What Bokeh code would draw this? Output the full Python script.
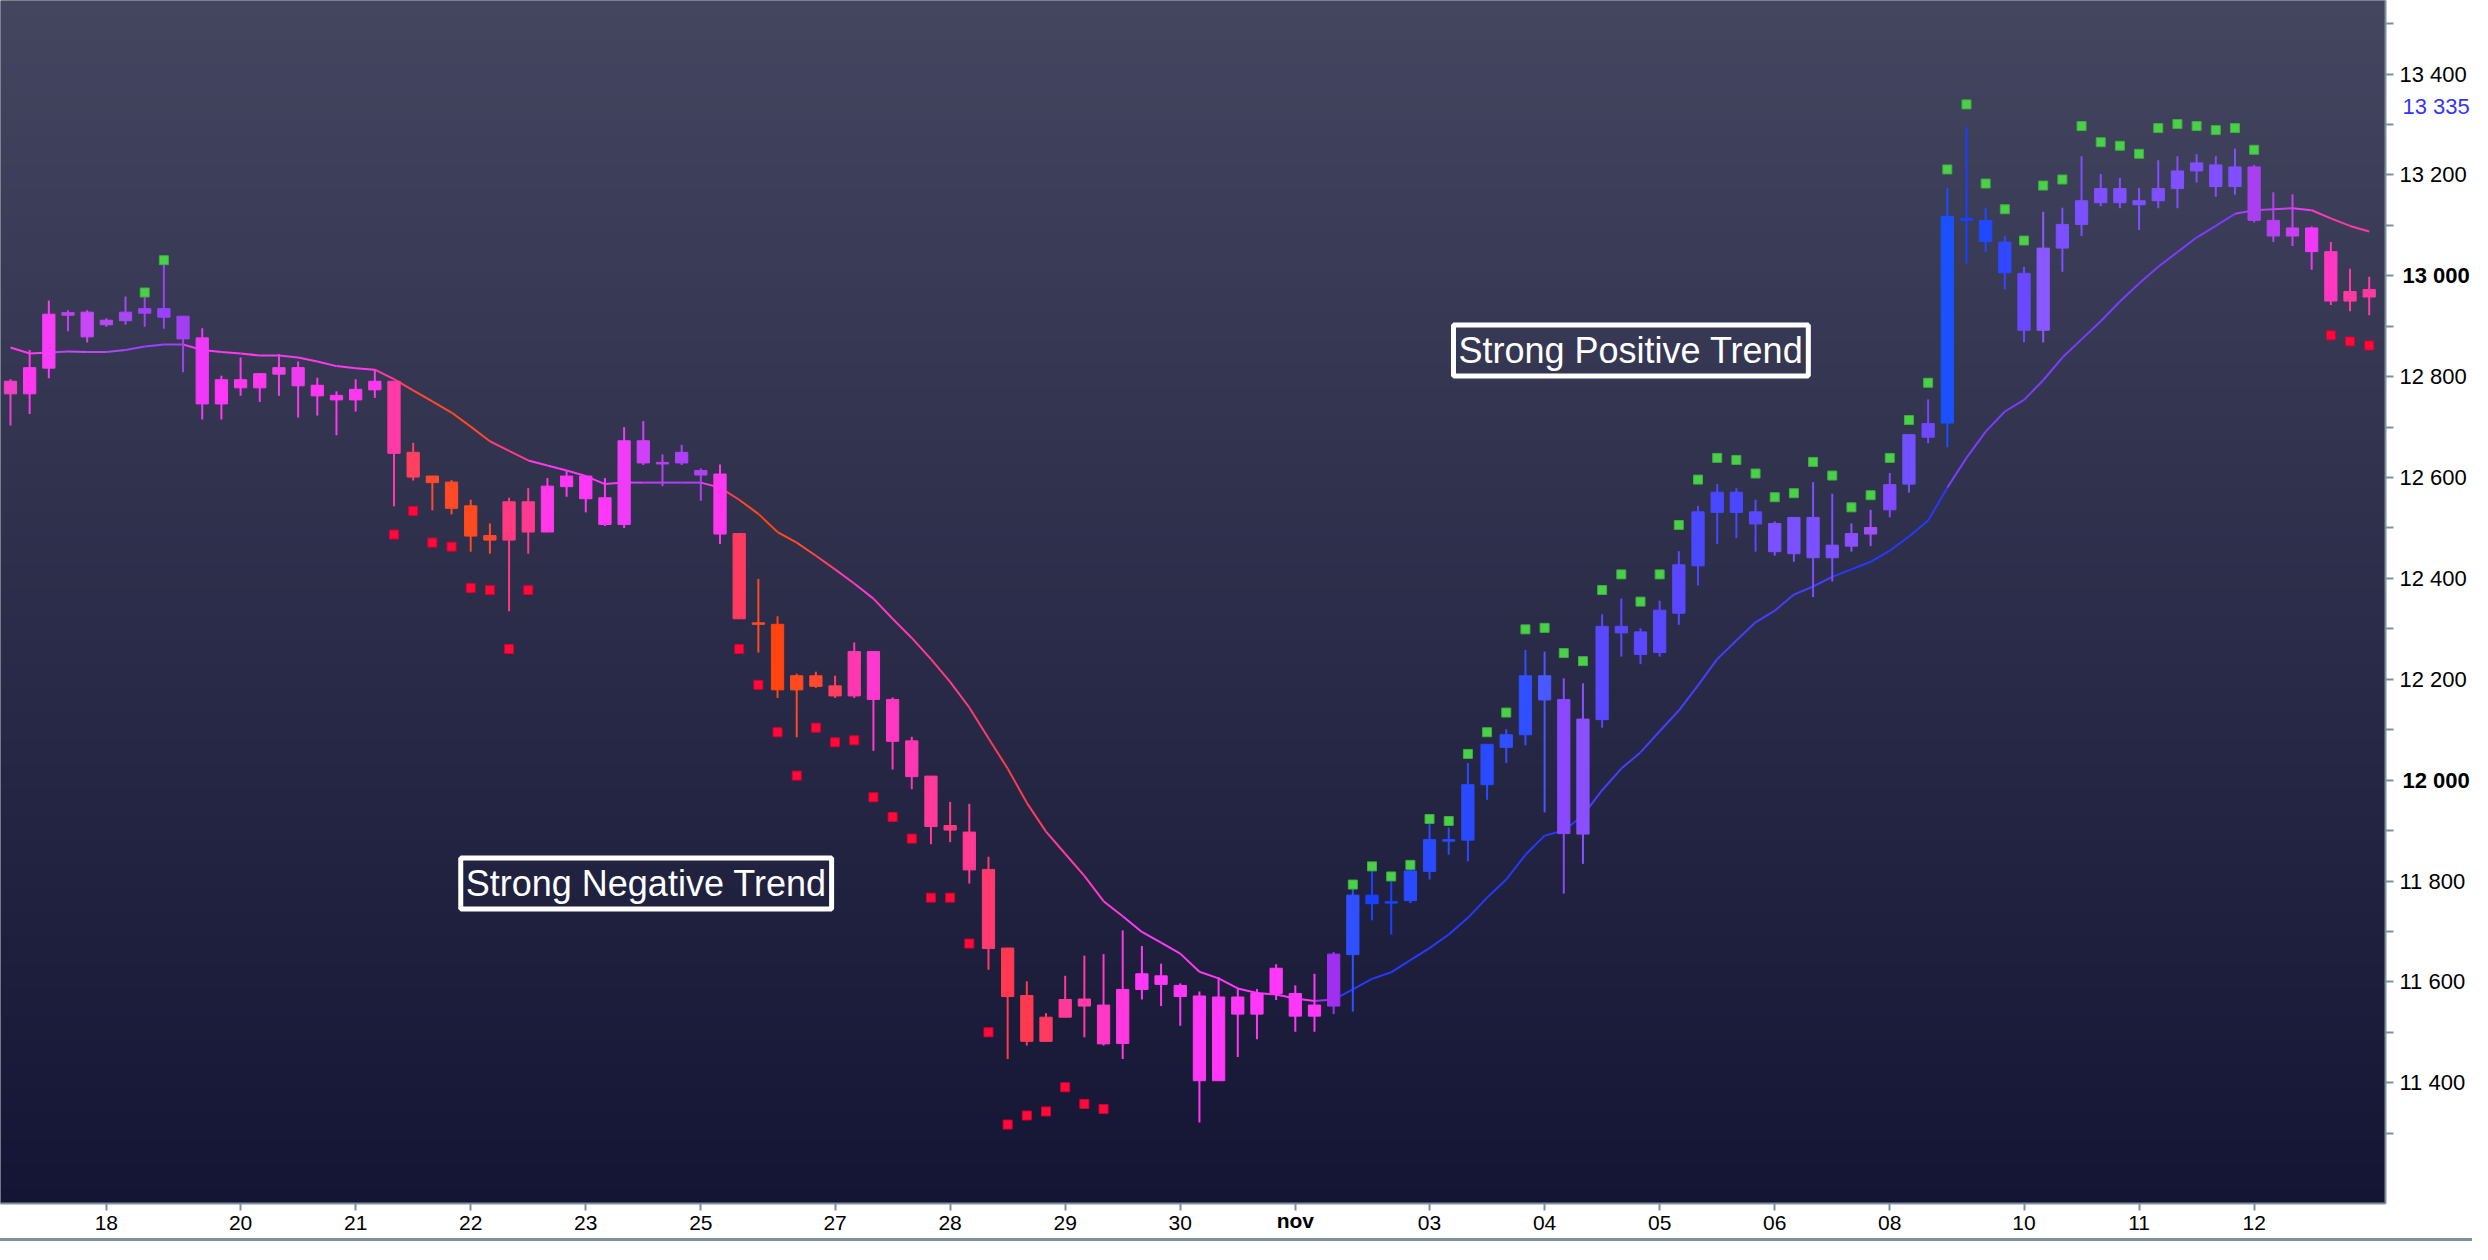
import numpy as np
from bokeh.plotting import figure
from bokeh.models import Range1d, FixedTicker, Label, LinearAxis
from bokeh.embed import file_html
from bokeh.resources import INLINE

# ---------------- data ----------------
# x-axis day labels and the candle index at which each day starts
tick_index = [5, 12, 18, 24, 30, 36, 43, 49, 55, 61, 67, 74, 80, 86, 92, 98, 105, 111, 117]
tick_labels = ["18", "20", "21", "22", "23", "25", "27", "28", "29", "30", "nov",
               "03", "04", "05", "06", "08", "10", "11", "12"]
bold_x_labels = ["nov"]

open_ = [12791, 12766, 12817, 12927, 12928, 12903, 12911, 12926, 12935, 12920,
         12877, 12746, 12794, 12778, 12805, 12818, 12783, 12763, 12754, 12774,
         12791, 12650, 12603, 12591, 12544, 12485, 12476, 12552, 12492, 12582,
         12603, 12560, 12507, 12673, 12630, 12629, 12614, 12607, 12489, 12312,
         12309, 12179, 12207, 12187, 12167, 12255, 12160, 12078, 12008, 11910,
         11897, 11823, 11667, 11573, 11482, 11530, 11566, 11554, 11478, 11585,
         11612, 11593, 11572, 11404, 11570, 11536, 11577, 11577, 11532, 11552,
         11654, 11772, 11756, 11761, 11819, 11882, 11881, 11991, 12065, 12090,
         12207, 12160, 11893, 12120, 12305, 12294, 12253, 12331, 12425, 12531,
         12571, 12532, 12509, 12449, 12521, 12441, 12464, 12488, 12536, 12587,
         12680, 12708, 13114, 13110, 13067, 13005, 12892, 13055, 13102, 13145,
         13173, 13141, 13149, 13173, 13208, 13220, 13177, 13216, 13110, 13079,
         13095, 13048, 12950, 12973]

close = [12766, 12818, 12924, 12922, 12879, 12912, 12928, 12935, 12918, 12875,
         12746, 12794, 12778, 12806, 12818, 12782, 12762, 12754, 12775, 12791,
         12648, 12601, 12590, 12539, 12484, 12476, 12552, 12492, 12583, 12603,
         12558, 12507, 12673, 12629, 12627, 12650, 12605, 12488, 12320, 12309,
         12179, 12207, 12186, 12167, 12255, 12160, 12077, 12007, 11908, 11901,
         11822, 11666, 11571, 11482, 11530, 11565, 11552, 11477, 11585, 11616,
         11595, 11571, 11404, 11570, 11536, 11577, 11627, 11532, 11554, 11655,
         11772, 11755, 11759, 11820, 11882, 11879, 11991, 12071, 12090, 12207,
         12159, 11894, 12121, 12305, 12292, 12249, 12337, 12427, 12532, 12571,
         12531, 12508, 12453, 12521, 12441, 12466, 12489, 12501, 12586, 12685,
         12707, 13118, 13110, 13068, 13006, 12892, 13055, 13102, 13149, 13173,
         13145, 13149, 13173, 13208, 13224, 13177, 13216, 13110, 13079, 13095,
         13048, 12950, 12969, 12958]

high = [12795, 12853, 12951, 12932, 12932, 12916, 12959, 12959, 13024, 12920,
        12896, 12802, 12838, 12806, 12845, 12830, 12798, 12771, 12795, 12814,
        12791, 12669, 12603, 12595, 12556, 12509, 12560, 12579, 12599, 12613,
        12603, 12599, 12700, 12712, 12646, 12665, 12618, 12626, 12489, 12399,
        12325, 12211, 12215, 12207, 12273, 12255, 12164, 12086, 12008, 11957,
        11953, 11848, 11667, 11601, 11538, 11612, 11652, 11655, 11702, 11671,
        11636, 11597, 11581, 11609, 11588, 11586, 11635, 11593, 11616, 11659,
        11784, 11821, 11799, 11824, 11913, 11906, 12034, 12071, 12101, 12258,
        12255, 12202, 12192, 12329, 12360, 12301, 12356, 12454, 12544, 12587,
        12579, 12556, 12513, 12521, 12591, 12568, 12509, 12536, 12609, 12685,
        12755, 13174, 13295, 13135, 13079, 13018, 13127, 13135, 13237, 13202,
        13194, 13174, 13229, 13237, 13241, 13237, 13252, 13220, 13166, 13162,
        13098, 13067, 13014, 12998]

low = [12703, 12726, 12797, 12890, 12868, 12899, 12903, 12899, 12895, 12809,
       12715, 12715, 12762, 12750, 12762, 12719, 12723, 12684, 12731, 12758,
       12543, 12594, 12535, 12527, 12453, 12449, 12335, 12449, 12492, 12562,
       12531, 12504, 12500, 12625, 12583, 12625, 12554, 12468, 12320, 12253,
       12163, 12085, 12183, 12163, 12163, 12058, 12021, 11982, 11873, 11877,
       11795, 11624, 11447, 11474, 11482, 11530, 11490, 11474, 11447, 11565,
       11552, 11513, 11321, 11404, 11451, 11486, 11564, 11501, 11501, 11536,
       11541, 11722, 11694, 11756, 11803, 11852, 11839, 11961, 12034, 12069,
       11936, 11775, 11834, 12104, 12245, 12230, 12245, 12308, 12386, 12468,
       12480, 12453, 12445, 12433, 12363, 12394, 12453, 12464, 12521, 12570,
       12668, 12660, 13024, 13048, 12973, 12868, 12868, 13008, 13079, 13138,
       13134, 13091, 13134, 13134, 13185, 13157, 13161, 13106, 13067, 13059,
       13012, 12942, 12930, 12922]

moving_avg = [12858, 12846, 12848, 12850, 12849, 12849, 12853, 12860, 12864, 12864,
              12853, 12849, 12846, 12842, 12842, 12838, 12830, 12821, 12817, 12814,
              12795, 12773, 12751, 12729, 12701, 12672, 12653, 12634, 12624, 12614,
              12603, 12587, 12590, 12590, 12590, 12590, 12590, 12580, 12556, 12528,
              12492, 12471, 12445, 12418, 12390, 12360, 12320, 12282, 12240, 12195,
              12144, 12083, 12023, 11955, 11898, 11854, 11810, 11760, 11730, 11699,
              11678, 11656, 11620, 11607, 11587, 11578, 11575, 11567, 11562, 11565,
              11585, 11606, 11619, 11643, 11667, 11694, 11727, 11767, 11803, 11852,
              11890, 11900, 11930, 11980, 12023, 12055, 12097, 12138, 12188, 12240,
              12277, 12313, 12336, 12368, 12384, 12403, 12418, 12433, 12455, 12483,
              12515, 12580, 12639, 12691, 12731, 12754, 12793, 12838, 12874, 12910,
              12949, 12985, 13018, 13047, 13076, 13099, 13123, 13130, 13132, 13134,
              13130, 13114, 13099, 13088]

# trailing-stop dots: above highs in up-trends, below lows in down-trends
up_stop_idx = [7, 8] + list(range(70, 118))
up_stop_val = [12967, 13031,
               11793, 11829, 11809, 11832, 11923, 11919, 12052, 12095, 12134, 12299,
               12302, 12252, 12236, 12377, 12408, 12354, 12408, 12506, 12596, 12639,
               12635, 12608, 12561, 12569, 12631, 12604, 12541, 12565, 12639, 12714,
               12788, 13211, 13340, 13183, 13132, 13070, 13179, 13191, 13297, 13265,
               13258, 13242, 13293, 13301, 13297, 13289, 13293, 13250]
down_stop_idx = list(range(20, 28)) + list(range(38, 58)) + [121, 122, 123]
down_stop_val = [12487, 12534, 12471, 12463, 12381, 12377, 12260, 12377,
                 12260, 12189, 12095, 12009, 12104, 12075, 12079, 11966, 11927, 11884,
                 11767, 11767, 11676, 11500, 11317, 11335, 11343, 11391, 11358, 11348,
                 12882, 12870, 12862]

y_tick_values = [11400, 11600, 11800, 12000, 12200, 12400, 12600, 12800, 13000, 13200, 13400]
y_minor_values = [11300, 11500, 11700, 11900, 12100, 12300, 12500, 12700, 12900, 13100, 13300, 13500]
bold_y_values = [12000, 13000]
price_marker = 13335

annotations = [("Strong Negative Trend", 33.15, 11795),
               ("Strong Positive Trend", 84.5, 12852)]

# ---------------- styles ----------------
candle_colors = [
    "#f040c8", "#ff38f0", "#f83cf8", "#c040f0", "#c848f8", "#b848f0", "#a848f0", "#a040f8", "#9a40ff", "#a040f0",
    "#f038f8", "#ff38f8", "#ff38f0", "#ff38f0", "#f040e8", "#f03cf0", "#ff38f0", "#ff38f0", "#ff38f0", "#ff38f0",
    "#ff3aa8", "#ff4060", "#ff4a30", "#ff4a28", "#ff4a20", "#ff4830", "#ff3a80", "#ff3a90", "#ff38e8", "#ff38f8",
    "#ff38f8", "#ff38f8", "#f03cf8", "#d040f8", "#b840f0", "#b040f8", "#b040f0", "#ff38f0", "#ff3a60", "#ff4a20",
    "#ff4410", "#ff4a20", "#ff4a30", "#ff4060", "#ff38b0", "#ff38d0", "#ff38c0", "#ff38b0", "#ff3a98", "#ff3a80",
    "#ff3a90", "#ff3a70", "#ff3a50", "#ff3a50", "#ff3a60", "#ff3a98", "#ff3aa8", "#ff38c8", "#ff38e0", "#ff38f8",
    "#ff38f8", "#ff38f8", "#ff38f8", "#ff38f8", "#ff38f8", "#ff38f8", "#ff38f8", "#ff38f8", "#ff38f8", "#a030f0",
    "#3050ff", "#1a40ff", "#1a40ff", "#2a4aff", "#2a4aff", "#2a4aff", "#2a4aff", "#2a4aff", "#3050ff", "#3050ff",
    "#4a58ff", "#8a48ff", "#8a50ff", "#5a48ff", "#5a48ff", "#5a48ff", "#5a48ff", "#5a48ff", "#4a48ff", "#4a48ff",
    "#4a48ff", "#5a48ff", "#7a50ff", "#7a50ff", "#7a50ff", "#7a50ff", "#8a50ff", "#a050f8", "#8048ff", "#7050ff",
    "#7048ff", "#1a50ff", "#1a40ff", "#2048ff", "#3048ff", "#6a48ff", "#8a58ff", "#7a50ff", "#7a50ff", "#8050ff",
    "#8050ff", "#8050ff", "#8050ff", "#8050ff", "#8050ff", "#8050ff", "#8050ff", "#a840f0", "#b840f0", "#c840f0",
    "#f038f8", "#ff38c0", "#ff3aa0", "#ff3aa0"]
ma_colors = list(candle_colors)
for i in range(70, 102):
    ma_colors[i] = "#2838ff" if i < 83 or i > 95 else "#4a3cff"
for i in range(102, 117):
    ma_colors[i] = "#7a3cff"

AXIS_GREY = "#7d909c"
FONT = "Liberation Sans"
Y_FONT_SIZE = "22px"
X_FONT_SIZE = "21px"
Y_TICK, Y_STANDOFF = 8, 6
X_TICK, X_STANDOFF = 7, 5
MAIN_Y_AXIS_W = 81      # tick + standoff + widest label ("13 400" at 22px)
MAIN_X_AXIS_H = 36      # tick + standoff + label height at 21px

n = len(close)
idx = list(range(n))
x0, x1 = -0.52, 123.85
y0, y1 = 11160.5, 13546.0
W, H = 2472, 1241
BOTTOM, RIGHT = 38, 84

p = figure(width=W, height=H, x_range=Range1d(x0, x1), y_range=Range1d(y0, y1),
           y_axis_location="right", output_backend="svg", toolbar_location=None,
           min_border_left=0, min_border_top=0, min_border_right=RIGHT, min_border_bottom=BOTTOM)
p.border_fill_color = "white"
p.background_fill_color = "#2b2c48"
p.outline_line_color = None
p.xgrid.grid_line_color = None
p.ygrid.grid_line_color = None
p.styles = {"border-bottom": "3px solid " + AXIS_GREY}

# background vertical gradient
NG = 400
img = np.empty((NG, 1), dtype=np.uint32)
view = img.view(dtype=np.uint8).reshape((NG, 1, 4))
t = np.linspace(0.0, 1.0, NG)
bot_c = np.array([20, 21, 52]); top_c = np.array([68, 69, 95])
for k in range(3):
    view[:, 0, k] = np.round(bot_c[k] + (top_c[k] - bot_c[k]) * t).astype(np.uint8)
view[:, 0, 3] = 255
p.image_rgba(image=[img], x=x0, y=y0, dw=x1 - x0, dh=y1 - y0, level="image")

# moving average, coloured per segment
xs = [[i, i + 1] for i in range(n - 1)]
ys = [[moving_avg[i], moving_avg[i + 1]] for i in range(n - 1)]
p.multi_line(xs=xs, ys=ys, line_color=ma_colors[1:], line_width=2)

# candles
body_top = [max(o, c) for o, c in zip(open_, close)]
body_bot = [min(o, c) for o, c in zip(open_, close)]
p.segment(x0=idx, y0=low, x1=idx, y1=high, line_color=candle_colors, line_width=2)
p.vbar(x=idx, width=0.64, top=body_top, bottom=body_bot,
       fill_color=candle_colors, line_color=candle_colors, line_width=1)

# trailing stop dots
p.scatter(up_stop_idx, up_stop_val, marker="square", size=9,
          fill_color="#4cd04c", line_color="#3cb03c", line_width=1)
p.scatter(down_stop_idx, down_stop_val, marker="square", size=9,
          fill_color="#ff0a3c", line_color="#d80030", line_width=1)


def style_axis(ax, font_size, tick_out, standoff, line=True):
    ax.major_label_text_font = FONT
    ax.major_label_text_font_size = font_size
    ax.major_label_text_color = "black"
    ax.major_label_standoff = standoff
    ax.axis_line_color = AXIS_GREY if line else None
    ax.axis_line_width = 2
    ax.major_tick_line_color = AXIS_GREY if tick_out > 0 else None
    ax.major_tick_line_width = 2
    ax.major_tick_out = tick_out
    ax.major_tick_in = 0
    ax.minor_tick_line_color = None
    ax.minor_tick_out = 0
    ax.minor_tick_in = 0


def fmt(v):
    return f"{v:,}".replace(",", " ")


# x axis (main)
p.xaxis.ticker = FixedTicker(ticks=tick_index)
p.xaxis.major_label_overrides = {i: ("" if lab in bold_x_labels else lab)
                                 for i, lab in zip(tick_index, tick_labels)}
style_axis(p.xaxis[0], X_FONT_SIZE, X_TICK, X_STANDOFF)

# x axis (bold month label) stacked below, pulled back onto the main label row
bold_x_idx = [i for i, lab in zip(tick_index, tick_labels) if lab in bold_x_labels]
xb = LinearAxis(ticker=FixedTicker(ticks=bold_x_idx),
                major_label_overrides={i: lab for i, lab in zip(tick_index, tick_labels)
                                       if lab in bold_x_labels})
style_axis(xb, X_FONT_SIZE, 0, X_TICK + X_STANDOFF - MAIN_X_AXIS_H, line=False)
xb.major_label_text_font_style = "bold"
p.add_layout(xb, "below")

# y axis (main, right)
p.yaxis.ticker = FixedTicker(ticks=y_tick_values, minor_ticks=y_minor_values)
p.yaxis.major_label_overrides = {v: ("" if v in bold_y_values else fmt(v)) for v in y_tick_values}
style_axis(p.yaxis[0], Y_FONT_SIZE, Y_TICK, Y_STANDOFF)
p.yaxis.minor_tick_line_color = AXIS_GREY
p.yaxis.minor_tick_line_width = 2
p.yaxis.minor_tick_out = Y_TICK

# y axis (bold round-thousand labels) stacked right, pulled back onto the main label column
yb = LinearAxis(ticker=FixedTicker(ticks=bold_y_values),
                major_label_overrides={v: fmt(v) for v in bold_y_values})
style_axis(yb, Y_FONT_SIZE, 0, Y_TICK + Y_STANDOFF - MAIN_Y_AXIS_W, line=False)
yb.major_label_text_font_style = "bold"
p.add_layout(yb, "right")

# price marker label
yp = LinearAxis(ticker=FixedTicker(ticks=[price_marker]),
                major_label_overrides={price_marker: fmt(price_marker)})
style_axis(yp, Y_FONT_SIZE, 0, Y_TICK + Y_STANDOFF - 3 - MAIN_Y_AXIS_W, line=False)
yp.major_label_text_color = "#3434ff"
try:
    yp.major_label_background_fill_color = "#1e1f46"
    yp.major_label_border_line_color = AXIS_GREY
    yp.major_label_border_line_width = 2
except AttributeError:
    pass
p.add_layout(yp, "right")

# annotation boxes
for txt, ax, ay in annotations:
    p.add_layout(Label(x=ax, y=ay, text=txt, text_align="center", text_baseline="middle",
                       text_font=FONT, text_font_size="36px", text_color="white",
                       border_line_color="white", border_line_width=5,
                       background_fill_color=None, padding=5))

open("out.html", "w").write(file_html(p, INLINE))
